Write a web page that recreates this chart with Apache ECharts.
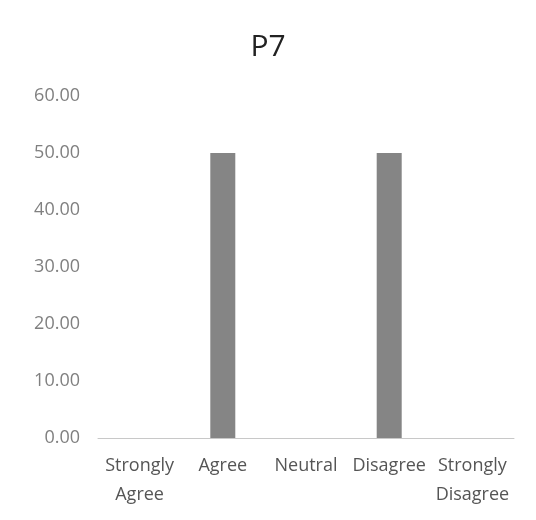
<!DOCTYPE html>
<html>
<head>
<meta charset="utf-8">
<script src="https://cdn.jsdelivr.net/npm/echarts@6/dist/echarts.min.js"></script>
<style>html,body{margin:0;padding:0;background:#fff;}#c{width:536px;height:520px;}</style>
</head>
<body>
<div id="c"></div>
<script>
var categories = ['Strongly\nAgree', 'Agree', 'Neutral', 'Disagree', 'Strongly\nDisagree'];
var values = [0, 50, 0, 50, 0];
var yTicks = [0, 10, 20, 30, 40, 50, 60];

var chart = echarts.init(document.getElementById('c'), null, {renderer: 'canvas'});
chart.setOption({
  backgroundColor: '#ffffff',
  animation: false,
  title: {
    text: 'P7',
    left: 'center',
    top: 27,
    textStyle: {fontFamily: 'Open Sans', fontSize: 30, fontWeight: 'normal', color: '#222'}
  },
  grid: {left: 98, right: 22, top: 96, bottom: 82},
  xAxis: {
    type: 'category',
    data: categories,
    axisLine: {show: true, lineStyle: {color: '#c8c8c8', width: 1}},
    axisTick: {show: false},
    axisLabel: {
      interval: 0,
      margin: 13,
      fontFamily: 'Open Sans',
      fontSize: 18,
      lineHeight: 29,
      color: '#555'
    }
  },
  yAxis: {
    type: 'value',
    min: yTicks[0],
    max: yTicks[yTicks.length - 1],
    interval: 10,
    splitLine: {show: false},
    axisLine: {show: false},
    axisTick: {show: false},
    axisLabel: {
      margin: 18,
      fontFamily: 'Open Sans',
      fontSize: 18,
      color: '#808080',
      formatter: function (v) { return v.toFixed(2); }
    }
  },
  series: [{
    type: 'bar',
    data: values,
    barWidth: 25,
    itemStyle: {color: '#858585'}
  }]
});
</script>
</body>
</html>
